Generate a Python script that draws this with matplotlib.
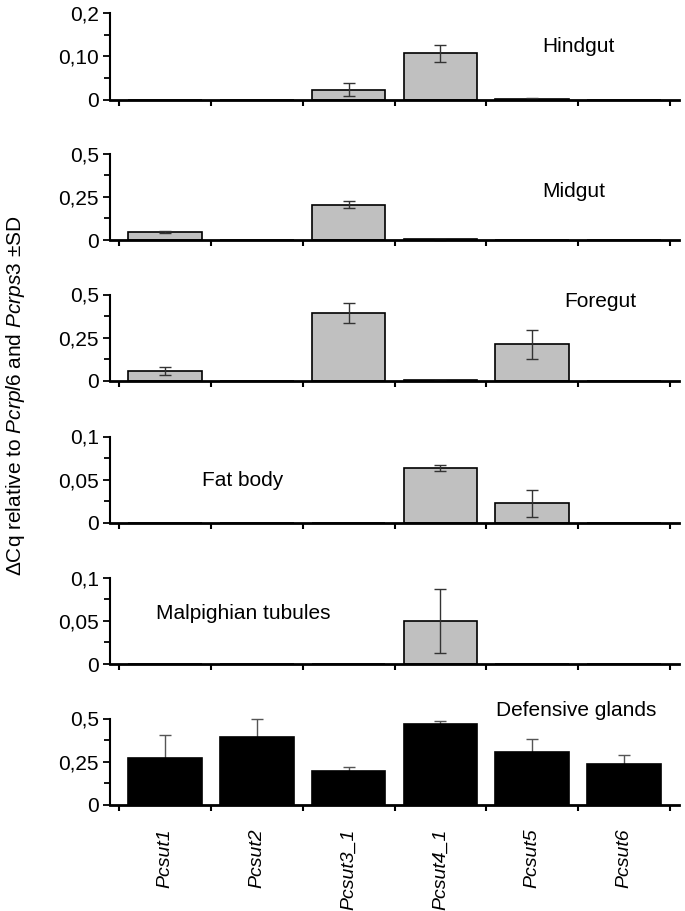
import numpy as np
import matplotlib
matplotlib.use('Agg')
import matplotlib.pyplot as plt
from matplotlib.ticker import FixedLocator

plt.rcParams['font.family'] = ['Liberation Sans', 'DejaVu Sans']
plt.rcParams['mathtext.fontset'] = 'custom'
plt.rcParams['mathtext.rm'] = 'Liberation Sans'
plt.rcParams['mathtext.it'] = 'Liberation Sans:italic'

genes = ['Pcsut1', 'Pcsut2', 'Pcsut3_1', 'Pcsut4_1', 'Pcsut5', 'Pcsut6']
tissues = ['Hindgut', 'Midgut', 'Foregut', 'Fat body', 'Malpighian tubules', 'Defensive glands']

hindgut = [0, 0, 0.022, 0.107, 0.002, 0]
hindgut_sd = [0, 0, 0.015, 0.020, 0.001, 0]
midgut = [0.045, 0, 0.205, 0.003, 0, 0]
midgut_sd = [0.005, 0, 0.019, 0.001, 0, 0]
foregut = [0.058, 0, 0.391, 0.005, 0.211, 0]
foregut_sd = [0.022, 0, 0.057, 0.001, 0.086, 0]
fat_body = [0, 0, 0, 0.0636, 0.0226, 0]
fat_body_sd = [0, 0, 0, 0.003, 0.016, 0]
malpighian = [0, 0, 0, 0.050, 0, 0]
malpighian_sd = [0, 0, 0, 0.037, 0, 0]
defensive = [0.272, 0.393, 0.197, 0.467, 0.306, 0.237]
defensive_sd = [0.134, 0.105, 0.023, 0.020, 0.077, 0.054]

values = [hindgut, midgut, foregut, fat_body, malpighian, defensive]
sds = [hindgut_sd, midgut_sd, foregut_sd, fat_body_sd, malpighian_sd, defensive_sd]

# y axis settings per panel: max, major ticks, tick labels
y_max = [0.2, 0.5, 0.5, 0.1, 0.1, 0.5]
y_major = [[0, 0.1, 0.2], [0, 0.25, 0.5], [0, 0.25, 0.5],
           [0, 0.05, 0.1], [0, 0.05, 0.1], [0, 0.25, 0.5]]
y_labels = [['0', '0,10', '0,2'], ['0', '0,25', '0,5'], ['0', '0,25', '0,5'],
            ['0', '0,05', '0,1'], ['0', '0,05', '0,1'], ['0', '0,25', '0,5']]

# tissue label anchor (data coords, left/center)
label_pos = [(4.11, 0.1235), (4.11, 0.283), (4.35, 0.461),
             (0.40, 0.0494), (-0.10, 0.0586), (3.61, 0.546)]

W, H = 685, 911
fig = plt.figure(figsize=(W / 100, H / 100), dpi=100)

zero_px = [99.5, 240, 381, 523, 664, 805]
panel_h = 86.5
left_px, right_px = 110, 679

x = np.arange(len(genes))
for i in range(6):
    ax = fig.add_axes([left_px / W, 1 - zero_px[i] / H, (right_px - left_px) / W, panel_h / H])
    black = (i == 5)
    color = 'black' if black else '#c0c0c0'
    ax.bar(x, values[i], width=0.8, color=color, edgecolor='black', linewidth=1.2, zorder=2)
    v = np.array(values[i])
    s = np.array(sds[i])
    m = s > 0
    ax.errorbar(x[m], v[m], yerr=s[m], fmt='none', ecolor='#555555' if black else '#333333',
                elinewidth=1.0, capsize=4, capthick=1.0, zorder=1 if black else 3, clip_on=False)

    ax.set_xlim(-0.6, 5.6)
    ax.set_ylim(0, y_max[i])
    for sp in ['top', 'right']:
        ax.spines[sp].set_visible(False)
    ax.spines['left'].set_linewidth(1.5)
    ax.spines['bottom'].set_linewidth(2)
    ax.spines['left'].set_zorder(4)
    ax.spines['bottom'].set_zorder(4)

    ax.yaxis.set_major_locator(FixedLocator(y_major[i]))
    ax.set_yticklabels(y_labels[i])
    ym = y_major[i]
    ax.yaxis.set_minor_locator(FixedLocator([(ym[0] + ym[1]) / 2, (ym[1] + ym[2]) / 2]))
    ax.tick_params(axis='y', which='major', direction='out', length=5, width=1.3, labelsize=15, pad=3)
    ax.tick_params(axis='y', which='minor', direction='out', length=4, width=1.3)

    ax.xaxis.set_major_locator(FixedLocator(x))
    ax.xaxis.set_minor_locator(FixedLocator(np.arange(-0.5, 6, 1)))
    ax.tick_params(axis='x', which='minor', direction='out', length=4, width=1.5)
    if black:
        ax.set_xticklabels(genes, rotation=90, style='italic', fontsize=14, va='top')
        ax.tick_params(axis='x', which='major', length=0, pad=17)
    else:
        ax.set_xticklabels([])
        ax.tick_params(axis='x', which='major', length=0)

    ax.text(label_pos[i][0], label_pos[i][1], tissues[i], fontsize=15,
            ha='left', va='center', clip_on=False)

fig.text(16 / W, 1 - 396 / H,
         r'ΔCq relative to $\mathit{Pcrpl6}$ and $\mathit{Pcrps3}$ ±SD',
         rotation=90, ha='center', va='center', fontsize=15)

fig.savefig('out.png', dpi=100)
